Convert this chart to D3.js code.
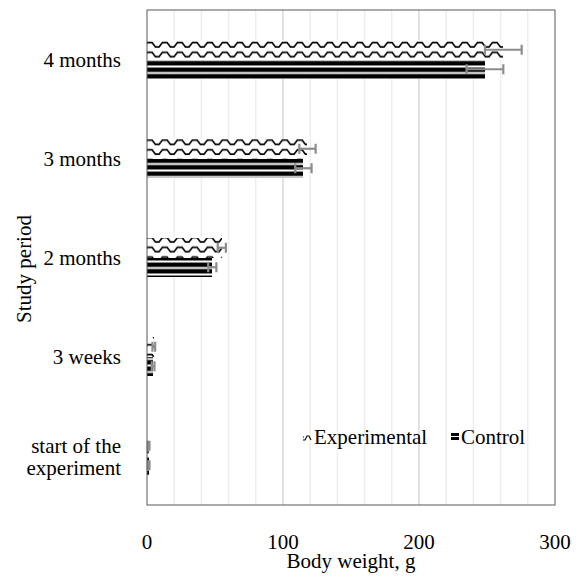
<!DOCTYPE html>
<html>
<head>
<meta charset="utf-8">
<script src="https://cdn.jsdelivr.net/npm/d3@7"></script>
</head>
<body style="margin:0;background:#fff">
<svg id="chart" width="576" height="581" style="display:block"></svg>
<script>
// data
const periods = ["4 months", "3 months", "2 months", "3 weeks", "start of the experiment"];
const experimental = [262, 118, 55, 5, 1.2];
const experimentalErr = [13.5, 6, 3, 1, 0.6];
const control = [248.5, 115, 48, 4.5, 1.2];
const controlErr = [13.5, 6, 3, 1, 0.6];
const xTicks = [0, 100, 200, 300];

const FONT = '"Liberation Serif"';
const svg = d3.select("#chart");
const margin = {left: 147, right: 21, top: 10, bottom: 76};
const W = 576, H = 581;

const x = d3.scaleLinear().domain([0, 300]).range([margin.left, W - margin.right]);
const y = d3.scaleBand().domain(periods).range([margin.top, H - margin.bottom]);
const barH = 19.5;

// patterns
const defs = svg.append("defs");
const wave = defs.append("pattern").attr("id", "wave")
  .attr("patternUnits", "userSpaceOnUse").attr("width", 15).attr("height", 9.75)
  .attr("y", y(periods[0]) + y.bandwidth() / 2 - barH);
wave.append("rect").attr("width", 15).attr("height", 9.75).attr("fill", "#fff");
wave.append("path").attr("d", "M0,2.5 L2,2.5 L5.5,7 L9,7 L12.5,2.5 L15,2.5")
  .attr("fill", "none").attr("stroke", "#000").attr("stroke-width", 1.7);

const stripes = defs.append("pattern").attr("id", "stripes")
  .attr("patternUnits", "userSpaceOnUse").attr("width", 8).attr("height", 6.5)
  .attr("y", y(periods[0]) + y.bandwidth() / 2);
stripes.append("rect").attr("width", 8).attr("height", 6.5).attr("fill", "#fff");
stripes.append("rect").attr("y", 1.5).attr("width", 8).attr("height", 4.5).attr("fill", "#000");

// grid
const g = svg.append("g");
g.selectAll(".grid").data(d3.range(20, 300, 20)).enter().append("line")
  .attr("x1", d => x(d)).attr("x2", d => x(d))
  .attr("y1", margin.top).attr("y2", H - margin.bottom)
  .attr("stroke", d => d % 100 === 0 ? "#d9d9d9" : "#eeeeee").attr("stroke-width", 1.5);

// bars
g.selectAll(".exp").data(periods).enter().append("rect")
  .attr("x", x(0)).attr("y", d => y(d) + y.bandwidth() / 2 - barH)
  .attr("width", (d, i) => x(experimental[i]) - x(0)).attr("height", barH)
  .attr("fill", "url(#wave)").attr("shape-rendering", "crispEdges");
g.selectAll(".ctl").data(periods).enter().append("rect")
  .attr("x", x(0)).attr("y", d => y(d) + y.bandwidth() / 2)
  .attr("width", (d, i) => x(control[i]) - x(0)).attr("height", barH)
  .attr("fill", "url(#stripes)").attr("shape-rendering", "crispEdges");

// error bars
function errBars(vals, errs, off) {
  const eg = g.append("g").attr("stroke", "#8c8c8c").attr("stroke-width", 2.2);
  periods.forEach((p, i) => {
    const cy = y(p) + y.bandwidth() / 2 + off;
    eg.append("line").attr("x1", x(vals[i] - errs[i])).attr("x2", x(vals[i] + errs[i]))
      .attr("y1", cy).attr("y2", cy);
    [vals[i] - errs[i], vals[i] + errs[i]].forEach(v => {
      eg.append("line").attr("x1", x(v)).attr("x2", x(v)).attr("y1", cy - 5).attr("y2", cy + 5);
    });
  });
}
errBars(experimental, experimentalErr, -barH / 2);
errBars(control, controlErr, barH / 2);

// frame
svg.append("rect").attr("x", margin.left).attr("y", margin.top)
  .attr("width", W - margin.left - margin.right).attr("height", H - margin.top - margin.bottom)
  .attr("fill", "none").attr("stroke", "#595959").attr("stroke-width", 1);

function label(sel) {
  return sel.style("font-family", FONT).attr("font-size", 21).attr("fill", "#000");
}

// x tick labels
label(svg.selectAll(".xt").data(xTicks).enter().append("text"))
  .attr("x", d => x(d)).attr("y", 549).attr("text-anchor", "middle").text(d => d);
label(svg.append("text")).attr("x", x(150)).attr("y", 568).attr("text-anchor", "middle")
  .text("Body weight, g");

// y labels
periods.forEach(p => {
  const cy = y(p) + y.bandwidth() / 2;
  if (p === "start of the experiment") {
    label(svg.append("text")).attr("x", 121).attr("y", cy - 3)
      .attr("text-anchor", "end").text("start of the");
    label(svg.append("text")).attr("x", 121).attr("y", cy + 19)
      .attr("text-anchor", "end").text("experiment");
  } else {
    label(svg.append("text")).attr("x", 121).attr("y", cy + 7)
      .attr("text-anchor", "end").text(p);
  }
});
label(svg.append("text")).attr("transform", "translate(31,269) rotate(-90)")
  .attr("text-anchor", "middle").text("Study period");

// legend
const lg = svg.append("g");
lg.append("path").attr("d", "M303,440 L305,440 L307,436 L309,436 L311,440")
  .attr("fill", "none").attr("stroke", "#000").attr("stroke-width", 1.1);
lg.append("path").attr("d", "M303,437 L304,437").attr("stroke", "#000").attr("stroke-width", 1);
label(lg.append("text")).attr("x", 314).attr("y", 444).text("Experimental");
lg.append("rect").attr("x", 451).attr("y", 433).attr("width", 8).attr("height", 7).attr("fill", "#000");
lg.append("rect").attr("x", 451).attr("y", 436).attr("width", 8).attr("height", 1).attr("fill", "#fff");
label(lg.append("text")).attr("x", 461).attr("y", 444).text("Control");
</script>
</body>
</html>
